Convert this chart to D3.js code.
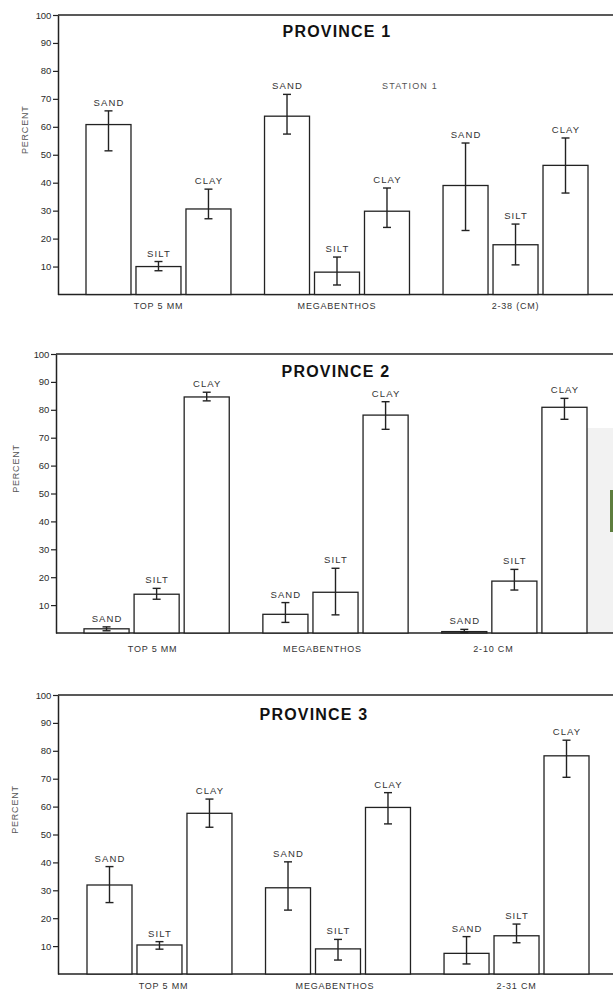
<!DOCTYPE html>
<html>
<head>
<meta charset="utf-8">
<script src="https://cdn.jsdelivr.net/npm/d3@7"></script>
<style>
  body { margin: 0; background: #fff; }
  text { font-family: "Liberation Sans", Arial, sans-serif; fill: #2b2b2b; }
</style>
</head>
<body>
<div id="chart"></div>
<script>
// values
const fractions = ["SAND", "SILT", "CLAY"]
const ticks = [10, 20, 30, 40, 50, 60, 70, 80, 90, 100]

const groups1 = ["TOP 5 MM", "MEGABENTHOS", "2-38 (CM)"]
const mean1 = [60.8, 10.0, 30.6, 63.8, 8.0, 29.8, 39.0, 17.8, 46.2]
const low1 = [51.4, 8.5, 27.1, 57.4, 3.4, 24.0, 22.9, 10.6, 36.3]
const high1 = [65.7, 11.8, 37.7, 71.6, 13.4, 38.1, 54.2, 25.2, 56.0]

const groups2 = ["TOP 5 MM", "MEGABENTHOS", "2-10 CM"]
const mean2 = [1.5, 13.9, 84.6, 6.7, 14.6, 78.1, 0.5, 18.6, 80.9]
const low2 = [0.8, 12.1, 83.2, 3.8, 6.5, 73.0, 0.2, 15.4, 76.6]
const high2 = [2.2, 16.0, 86.3, 10.9, 23.2, 82.9, 1.3, 22.8, 84.1]

const groups3 = ["TOP 5 MM", "MEGABENTHOS", "2-31 CM"]
const mean3 = [31.9, 10.4, 57.6, 30.9, 9.0, 59.7, 7.4, 13.7, 78.2]
const low3 = [25.6, 8.9, 52.6, 22.9, 5.0, 53.8, 3.6, 11.2, 70.5]
const high3 = [38.5, 11.6, 62.7, 40.2, 12.4, 65.0, 13.4, 17.9, 83.8]

const titles = ["PROVINCE 1", "PROVINCE 2", "PROVINCE 3"]

let width = 613
let height = 992

// layout of each panel (pixels)
let panels = [
  {title: titles[0], groups: groups1, mean: mean1, low: low1, high: high1,
   axisX: 58, top: 15, bottom: 294.5, x0: 86, x1: 588, titleX: 337, titleY: 37,
   catY: 309, catShift: [0, 0, 0], percentX: 28},
  {title: titles[1], groups: groups2, mean: mean2, low: low2, high: high2,
   axisX: 56, top: 354, bottom: 633, x0: 84, x1: 587, titleX: 336, titleY: 377,
   catY: 652, catShift: [-4, -13, -21], percentX: 19},
  {title: titles[2], groups: groups3, mean: mean3, low: low3, high: high3,
   axisX: 58, top: 695, bottom: 974, x0: 87, x1: 589, titleX: 314, titleY: 720,
   catY: 989, catShift: [4, -3, 0], percentX: 18}
]

let svg = d3.select("#chart")
  .append("svg")
  .attr("width", width)
  .attr("height", height)
  .style("background", "#fff")

// scan artefact on the right of panel 2
svg.append("rect")
  .attr("x", 586).attr("y", 428)
  .attr("width", 27).attr("height", 205)
  .attr("fill", "#f2f2f2")
svg.append("rect")
  .attr("x", 610).attr("y", 490)
  .attr("width", 3).attr("height", 42)
  .attr("fill", "#5d7d3d")

panels.forEach((p, pi) => {
  let g = svg.append("g")

  let y = d3.scaleLinear().domain([0, 100]).range([p.bottom, p.top])

  let xGroup = d3.scaleBand()
    .domain(p.groups)
    .range([p.x0, p.x1])
    .paddingInner(0.188)
    .paddingOuter(0)

  let xBar = d3.scaleBand()
    .domain(fractions)
    .range([0, xGroup.bandwidth()])
    .paddingInner(0.1)
    .paddingOuter(0)

  let rows = []
  p.groups.forEach((grp, gi) => {
    fractions.forEach((f, fi) => {
      let k = gi * 3 + fi
      rows.push({group: grp, fraction: f, mean: p.mean[k], low: p.low[k], high: p.high[k]})
    })
  })

  // top frame line and baseline
  g.append("line")
    .attr("x1", p.axisX).attr("x2", width)
    .attr("y1", y(100)).attr("y2", y(100))
    .attr("stroke", "#222").attr("stroke-width", 1.3)
  g.append("line")
    .attr("x1", p.axisX).attr("x2", width)
    .attr("y1", y(0)).attr("y2", y(0))
    .attr("stroke", "#222").attr("stroke-width", 1.4)

  // y axis
  let axis = g.append("g")
    .attr("transform", `translate(${p.axisX},0)`)
    .call(d3.axisLeft(y).tickValues(ticks).tickSize(5).tickSizeOuter(0).tickPadding(2))
  axis.select(".domain").attr("stroke", "#222").attr("stroke-width", 1.5)
  axis.selectAll(".tick line").attr("stroke", "#222").attr("stroke-width", 1.2)
  axis.selectAll(".tick text")
    .style("font-family", "'Liberation Sans', Arial, sans-serif")
    .style("font-size", "9.5px")
    .style("letter-spacing", "-0.2px")
    .attr("fill", "#333")

  // y label
  g.append("text")
    .attr("transform", `translate(${p.percentX},${(p.top + p.bottom) / 2 - 25}) rotate(-90)`)
    .attr("text-anchor", "middle")
    .style("font-size", "9px")
    .style("letter-spacing", "0.8px")
    .style("fill", "#555")
    .text("PERCENT")

  // title
  g.append("text")
    .attr("x", p.titleX).attr("y", p.titleY)
    .attr("text-anchor", "middle")
    .style("font-size", "16px")
    .style("font-weight", "bold")
    .style("letter-spacing", "1.2px")
    .style("fill", "#111")
    .text(p.title)

  if (pi == 0) {
    g.append("text")
      .attr("x", 382).attr("y", 89)
      .style("font-size", "9px")
      .style("letter-spacing", "1.2px")
      .style("fill", "#555")
      .text("STATION 1")
  }

  // bars
  let bars = g.selectAll(".bar")
    .data(rows)
    .enter()
    .append("g")
    .attr("class", "bar")
    .attr("transform", d => `translate(${xGroup(d.group) + xBar(d.fraction)},0)`)

  bars.append("rect")
    .attr("x", 0)
    .attr("y", d => y(d.mean))
    .attr("width", xBar.bandwidth())
    .attr("height", d => y(0) - y(d.mean))
    .attr("fill", "#fff")
    .attr("stroke", "#222")
    .attr("stroke-width", 1.3)

  let cx = xBar.bandwidth() / 2
  let cap = 4
  bars.append("line")
    .attr("x1", cx).attr("x2", cx)
    .attr("y1", d => y(d.high)).attr("y2", d => y(d.low))
    .attr("stroke", "#222").attr("stroke-width", 1.4)
  bars.append("line")
    .attr("x1", cx - cap).attr("x2", cx + cap)
    .attr("y1", d => y(d.high)).attr("y2", d => y(d.high))
    .attr("stroke", "#222").attr("stroke-width", 1.4)
  bars.append("line")
    .attr("x1", cx - cap).attr("x2", cx + cap)
    .attr("y1", d => y(d.low)).attr("y2", d => y(d.low))
    .attr("stroke", "#222").attr("stroke-width", 1.4)

  bars.append("text")
    .attr("x", cx + 0.5)
    .attr("y", d => y(d.high) - 5)
    .attr("text-anchor", "middle")
    .style("font-size", "9.5px")
    .style("letter-spacing", "1.1px")
    .style("fill", "#333")
    .text(d => d.fraction)

  // category labels under each group
  g.selectAll(".cat")
    .data(p.groups)
    .enter()
    .append("text")
    .attr("class", "cat")
    .attr("x", (d, i) => xGroup(d) + xGroup.bandwidth() / 2 + p.catShift[i])
    .attr("y", p.catY)
    .attr("text-anchor", "middle")
    .style("font-size", "9px")
    .style("letter-spacing", "0.8px")
    .style("fill", "#333")
    .text(d => d)
})
</script>
</body>
</html>
